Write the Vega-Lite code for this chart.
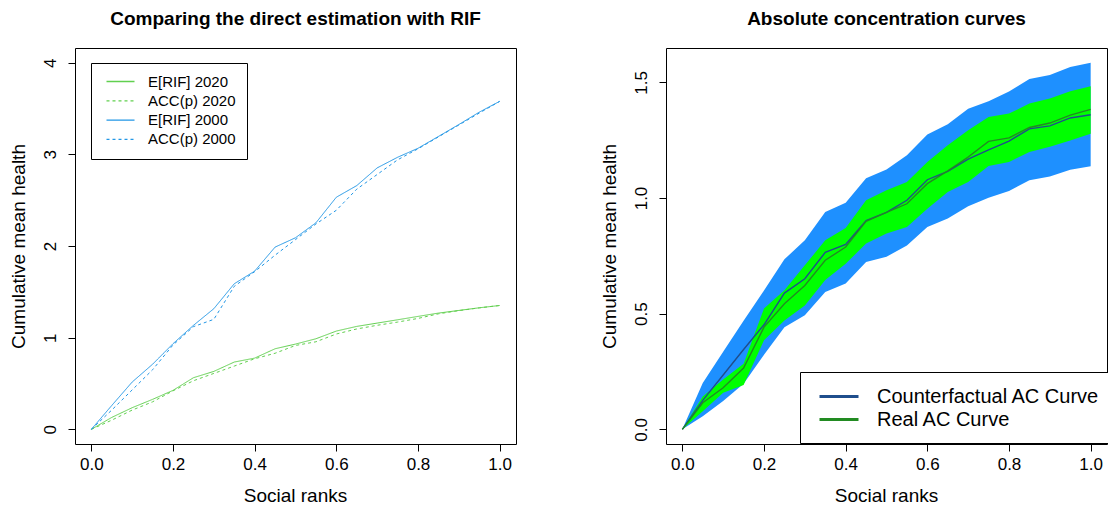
{
  "$schema": "https://vega.github.io/schema/vega-lite/v6.json",
  "autosize": {"type": "pad"},
  "padding": {"left": 8, "top": 9, "right": 0, "bottom": 0},
  "background": "white",
  "bounds": "flush",
  "spacing": 150,
  "resolve": {"scale": {"color": "independent", "x": "independent", "y": "independent"}, "legend": {"color": "independent"}},
  "config": {
    "font": "Liberation Sans",
    "view": {"stroke": "black", "strokeWidth": 1},
    "axis": {
      "domain": false, "grid": false, "ticks": true, "tickColor": "black", "tickSize": 7, "tickWidth": 1,
      "labelColor": "black", "labelFont": "Liberation Sans", "labelFontSize": 17,
      "titleColor": "black", "titleFont": "Liberation Sans", "titleFontSize": 19, "titleFontWeight": "normal"
    },
    "title": {"font": "Liberation Sans", "fontSize": 19, "fontWeight": "bold", "color": "black", "baseline": "alphabetic", "offset": 19}
  },
  "datasets": {
    "left": [
      {"p":0,"s":"E[RIF] 2020","v":0},{"p":0.05,"s":"E[RIF] 2020","v":0.13},{"p":0.1,"s":"E[RIF] 2020","v":0.236},{"p":0.15,"s":"E[RIF] 2020","v":0.327},{"p":0.2,"s":"E[RIF] 2020","v":0.425},{"p":0.25,"s":"E[RIF] 2020","v":0.563},{"p":0.3,"s":"E[RIF] 2020","v":0.632},{"p":0.35,"s":"E[RIF] 2020","v":0.734},{"p":0.4,"s":"E[RIF] 2020","v":0.777},{"p":0.45,"s":"E[RIF] 2020","v":0.879},{"p":0.5,"s":"E[RIF] 2020","v":0.93},{"p":0.55,"s":"E[RIF] 2020","v":0.988},{"p":0.6,"s":"E[RIF] 2020","v":1.072},{"p":0.65,"s":"E[RIF] 2020","v":1.123},{"p":0.7,"s":"E[RIF] 2020","v":1.159},{"p":0.75,"s":"E[RIF] 2020","v":1.195},{"p":0.8,"s":"E[RIF] 2020","v":1.232},{"p":0.85,"s":"E[RIF] 2020","v":1.268},{"p":0.9,"s":"E[RIF] 2020","v":1.297},{"p":0.95,"s":"E[RIF] 2020","v":1.326},{"p":1,"s":"E[RIF] 2020","v":1.351},
      {"p":0,"s":"ACC(p) 2020","v":0},{"p":0.05,"s":"ACC(p) 2020","v":0.1},{"p":0.1,"s":"ACC(p) 2020","v":0.21},{"p":0.15,"s":"ACC(p) 2020","v":0.3},{"p":0.2,"s":"ACC(p) 2020","v":0.42},{"p":0.25,"s":"ACC(p) 2020","v":0.53},{"p":0.3,"s":"ACC(p) 2020","v":0.61},{"p":0.35,"s":"ACC(p) 2020","v":0.69},{"p":0.4,"s":"ACC(p) 2020","v":0.77},{"p":0.45,"s":"ACC(p) 2020","v":0.83},{"p":0.5,"s":"ACC(p) 2020","v":0.915},{"p":0.55,"s":"ACC(p) 2020","v":0.955},{"p":0.6,"s":"ACC(p) 2020","v":1.04},{"p":0.65,"s":"ACC(p) 2020","v":1.095},{"p":0.7,"s":"ACC(p) 2020","v":1.135},{"p":0.75,"s":"ACC(p) 2020","v":1.17},{"p":0.8,"s":"ACC(p) 2020","v":1.21},{"p":0.85,"s":"ACC(p) 2020","v":1.26},{"p":0.9,"s":"ACC(p) 2020","v":1.295},{"p":0.95,"s":"ACC(p) 2020","v":1.325},{"p":1,"s":"ACC(p) 2020","v":1.351},
      {"p":0,"s":"E[RIF] 2000","v":0},{"p":0.05,"s":"E[RIF] 2000","v":0.26},{"p":0.1,"s":"E[RIF] 2000","v":0.516},{"p":0.15,"s":"E[RIF] 2000","v":0.71},{"p":0.2,"s":"E[RIF] 2000","v":0.934},{"p":0.25,"s":"E[RIF] 2000","v":1.134},{"p":0.3,"s":"E[RIF] 2000","v":1.316},{"p":0.35,"s":"E[RIF] 2000","v":1.588},{"p":0.4,"s":"E[RIF] 2000","v":1.726},{"p":0.45,"s":"E[RIF] 2000","v":1.988},{"p":0.5,"s":"E[RIF] 2000","v":2.09},{"p":0.55,"s":"E[RIF] 2000","v":2.253},{"p":0.6,"s":"E[RIF] 2000","v":2.532},{"p":0.65,"s":"E[RIF] 2000","v":2.659},{"p":0.7,"s":"E[RIF] 2000","v":2.852},{"p":0.75,"s":"E[RIF] 2000","v":2.968},{"p":0.8,"s":"E[RIF] 2000","v":3.066},{"p":0.85,"s":"E[RIF] 2000","v":3.195},{"p":0.9,"s":"E[RIF] 2000","v":3.325},{"p":0.95,"s":"E[RIF] 2000","v":3.46},{"p":1,"s":"E[RIF] 2000","v":3.578},
      {"p":0,"s":"ACC(p) 2000","v":0},{"p":0.05,"s":"ACC(p) 2000","v":0.21},{"p":0.1,"s":"ACC(p) 2000","v":0.43},{"p":0.15,"s":"ACC(p) 2000","v":0.65},{"p":0.2,"s":"ACC(p) 2000","v":0.92},{"p":0.25,"s":"ACC(p) 2000","v":1.12},{"p":0.3,"s":"ACC(p) 2000","v":1.2},{"p":0.35,"s":"ACC(p) 2000","v":1.56},{"p":0.4,"s":"ACC(p) 2000","v":1.72},{"p":0.45,"s":"ACC(p) 2000","v":1.9},{"p":0.5,"s":"ACC(p) 2000","v":2.07},{"p":0.55,"s":"ACC(p) 2000","v":2.24},{"p":0.6,"s":"ACC(p) 2000","v":2.39},{"p":0.65,"s":"ACC(p) 2000","v":2.62},{"p":0.7,"s":"ACC(p) 2000","v":2.78},{"p":0.75,"s":"ACC(p) 2000","v":2.94},{"p":0.8,"s":"ACC(p) 2000","v":3.06},{"p":0.85,"s":"ACC(p) 2000","v":3.19},{"p":0.9,"s":"ACC(p) 2000","v":3.32},{"p":0.95,"s":"ACC(p) 2000","v":3.45},{"p":1,"s":"ACC(p) 2000","v":3.578}
    ],
    "bands": [
      {"p":0,"cf_lo":0,"cf_hi":0,"re_lo":0,"re_hi":0},
      {"p":0.05,"cf_lo":0.057,"cf_hi":0.2,"re_lo":0.078,"re_hi":0.142},
      {"p":0.1,"cf_lo":0.122,"cf_hi":0.335,"re_lo":0.158,"re_hi":0.215},
      {"p":0.15,"cf_lo":0.197,"cf_hi":0.469,"re_lo":0.192,"re_hi":0.284},
      {"p":0.2,"cf_lo":0.322,"cf_hi":0.6,"re_lo":0.385,"re_hi":0.522},
      {"p":0.25,"cf_lo":0.441,"cf_hi":0.735,"re_lo":0.47,"re_hi":0.601},
      {"p":0.3,"cf_lo":0.493,"cf_hi":0.817,"re_lo":0.535,"re_hi":0.709},
      {"p":0.35,"cf_lo":0.594,"cf_hi":0.94,"re_lo":0.645,"re_hi":0.817},
      {"p":0.4,"cf_lo":0.63,"cf_hi":0.98,"re_lo":0.716,"re_hi":0.87},
      {"p":0.45,"cf_lo":0.723,"cf_hi":1.085,"re_lo":0.803,"re_hi":0.99},
      {"p":0.5,"cf_lo":0.746,"cf_hi":1.123,"re_lo":0.846,"re_hi":1.033},
      {"p":0.55,"cf_lo":0.795,"cf_hi":1.185,"re_lo":0.875,"re_hi":1.069},
      {"p":0.6,"cf_lo":0.875,"cf_hi":1.275,"re_lo":0.954,"re_hi":1.156},
      {"p":0.65,"cf_lo":0.911,"cf_hi":1.319,"re_lo":1.026,"re_hi":1.228},
      {"p":0.7,"cf_lo":0.964,"cf_hi":1.386,"re_lo":1.069,"re_hi":1.293},
      {"p":0.75,"cf_lo":1.001,"cf_hi":1.418,"re_lo":1.138,"re_hi":1.35},
      {"p":0.8,"cf_lo":1.03,"cf_hi":1.46,"re_lo":1.156,"re_hi":1.365},
      {"p":0.85,"cf_lo":1.077,"cf_hi":1.514,"re_lo":1.199,"re_hi":1.408},
      {"p":0.9,"cf_lo":1.093,"cf_hi":1.532,"re_lo":1.221,"re_hi":1.43},
      {"p":0.95,"cf_lo":1.122,"cf_hi":1.566,"re_lo":1.249,"re_hi":1.461},
      {"p":1,"cf_lo":1.137,"cf_hi":1.585,"re_lo":1.278,"re_hi":1.483}
    ],
    "curves": [
      {"p":0,"c":"Counterfactual AC Curve","v":0},{"p":0.05,"c":"Counterfactual AC Curve","v":0.125},{"p":0.1,"c":"Counterfactual AC Curve","v":0.235},{"p":0.15,"c":"Counterfactual AC Curve","v":0.345},{"p":0.2,"c":"Counterfactual AC Curve","v":0.452},{"p":0.25,"c":"Counterfactual AC Curve","v":0.589},{"p":0.3,"c":"Counterfactual AC Curve","v":0.651},{"p":0.35,"c":"Counterfactual AC Curve","v":0.765},{"p":0.4,"c":"Counterfactual AC Curve","v":0.799},{"p":0.45,"c":"Counterfactual AC Curve","v":0.902},{"p":0.5,"c":"Counterfactual AC Curve","v":0.938},{"p":0.55,"c":"Counterfactual AC Curve","v":0.99},{"p":0.6,"c":"Counterfactual AC Curve","v":1.079},{"p":0.65,"c":"Counterfactual AC Curve","v":1.115},{"p":0.7,"c":"Counterfactual AC Curve","v":1.168},{"p":0.75,"c":"Counterfactual AC Curve","v":1.208},{"p":0.8,"c":"Counterfactual AC Curve","v":1.246},{"p":0.85,"c":"Counterfactual AC Curve","v":1.299},{"p":0.9,"c":"Counterfactual AC Curve","v":1.312},{"p":0.95,"c":"Counterfactual AC Curve","v":1.346},{"p":1,"c":"Counterfactual AC Curve","v":1.36},
      {"p":0,"c":"Real AC Curve","v":0},{"p":0.05,"c":"Real AC Curve","v":0.115},{"p":0.1,"c":"Real AC Curve","v":0.18},{"p":0.15,"c":"Real AC Curve","v":0.265},{"p":0.2,"c":"Real AC Curve","v":0.442},{"p":0.25,"c":"Real AC Curve","v":0.543},{"p":0.3,"c":"Real AC Curve","v":0.622},{"p":0.35,"c":"Real AC Curve","v":0.731},{"p":0.4,"c":"Real AC Curve","v":0.788},{"p":0.45,"c":"Real AC Curve","v":0.899},{"p":0.5,"c":"Real AC Curve","v":0.938},{"p":0.55,"c":"Real AC Curve","v":0.975},{"p":0.6,"c":"Real AC Curve","v":1.062},{"p":0.65,"c":"Real AC Curve","v":1.117},{"p":0.7,"c":"Real AC Curve","v":1.177},{"p":0.75,"c":"Real AC Curve","v":1.245},{"p":0.8,"c":"Real AC Curve","v":1.26},{"p":0.85,"c":"Real AC Curve","v":1.305},{"p":0.9,"c":"Real AC Curve","v":1.324},{"p":0.95,"c":"Real AC Curve","v":1.358},{"p":1,"c":"Real AC Curve","v":1.383}
    ]
  },
  "hconcat": [
    {
      "width": 441,
      "height": 396,
      "title": {"text": "Comparing the direct estimation with RIF"},
      "data": {"name": "left"},
      "mark": {"type": "line", "strokeWidth": 1},
      "encoding": {
        "x": {"field": "p", "type": "quantitative",
          "scale": {"domain": [-0.04, 1.04], "nice": false, "zero": false},
          "axis": {"values": [0, 0.2, 0.4, 0.6, 0.8, 1], "format": ".1f", "labelPadding": 5, "labelFlush": false,
            "title": "Social ranks", "titleX": 220, "titleY": 51, "titleBaseline": "middle"}},
        "y": {"field": "v", "type": "quantitative",
          "scale": {"domain": [-0.16, 4.16], "nice": false, "zero": false},
          "axis": {"values": [0, 1, 2, 3, 4], "format": "d", "labelAngle": -90, "labelAlign": "center", "labelBaseline": "middle", "labelPadding": 18, "labelFlush": false,
            "title": "Cumulative mean health", "titleX": -57, "titleY": 198, "titleAngle": -90, "titleAlign": "center", "titleBaseline": "middle"}},
        "color": {"field": "s", "type": "nominal",
          "scale": {"domain": ["E[RIF] 2020", "ACC(p) 2020", "E[RIF] 2000", "ACC(p) 2000"], "range": ["#61D04F", "#61D04F", "#2297E6", "#2297E6"]},
          "legend": {"title": null, "orient": "none", "legendX": 16, "legendY": 15, "strokeColor": "black", "fillColor": "white", "padding": 11, "cornerRadius": 0,
            "symbolType": "M-0.5,0H4.17", "symbolSize": 144, "symbolStrokeWidth": 1.3, "labelFontSize": 15, "labelColor": "black", "labelFont": "Liberation Sans", "labelOffset": 31, "rowPadding": 3.3,
            "encode": {"symbols": {"update": {"strokeDash": {"signal": "indexof(datum.value, 'ACC') === 0 ? [3, 3] : [1, 0]"}}}}}},
        "strokeDash": {"field": "s", "type": "nominal",
          "scale": {"domain": ["E[RIF] 2020", "ACC(p) 2020", "E[RIF] 2000", "ACC(p) 2000"], "range": [[1, 0], [3, 3], [1, 0], [3, 3]]},
          "legend": null}
      }
    },
    {
      "width": 441,
      "height": 396,
      "title": {"text": "Absolute concentration curves"},
      "encoding": {
        "x": {"field": "p", "type": "quantitative",
          "scale": {"domain": [-0.04, 1.04], "nice": false, "zero": false},
          "axis": {"values": [0, 0.2, 0.4, 0.6, 0.8, 1], "format": ".1f", "labelPadding": 5, "labelFlush": false,
            "title": "Social ranks", "titleX": 220, "titleY": 51, "titleBaseline": "middle"}}
      },
      "layer": [
        {
          "data": {"name": "bands"},
          "mark": {"type": "area", "color": "#1E90FF", "opacity": 1},
          "encoding": {
            "y": {"field": "cf_lo", "type": "quantitative",
              "scale": {"domain": [-0.0634, 1.6484], "nice": false, "zero": false},
              "axis": {"values": [0, 0.5, 1, 1.5], "format": ".1f", "labelAngle": -90, "labelAlign": "center", "labelBaseline": "middle", "labelPadding": 18, "labelFlush": false,
                "title": "Cumulative mean health", "titleX": -57, "titleY": 198, "titleAngle": -90, "titleAlign": "center", "titleBaseline": "middle"}},
            "y2": {"field": "cf_hi"}
          }
        },
        {
          "data": {"name": "bands"},
          "mark": {"type": "area", "color": "#00FF00", "opacity": 1},
          "encoding": {
            "y": {"field": "re_lo", "type": "quantitative"},
            "y2": {"field": "re_hi"}
          }
        },
        {
          "data": {"name": "curves"},
          "mark": {"type": "line", "strokeWidth": 1.4},
          "encoding": {
            "y": {"field": "v", "type": "quantitative"},
            "color": {"field": "c", "type": "nominal",
              "scale": {"domain": ["Counterfactual AC Curve", "Real AC Curve"], "range": ["#1F4E8C", "#228B22"]},
              "legend": {"title": null, "orient": "none", "legendX": 134, "legendY": 324, "strokeColor": "black", "fillColor": "white", "padding": 13, "cornerRadius": 0,
                "symbolType": "M-0.5,0H3.4", "symbolSize": 400, "symbolStrokeWidth": 3, "labelFontSize": 20, "labelColor": "black", "labelFont": "Liberation Sans", "labelOffset": 41, "rowPadding": 1, "labelLimit": 400}}
          }
        }
      ]
    }
  ]
}
